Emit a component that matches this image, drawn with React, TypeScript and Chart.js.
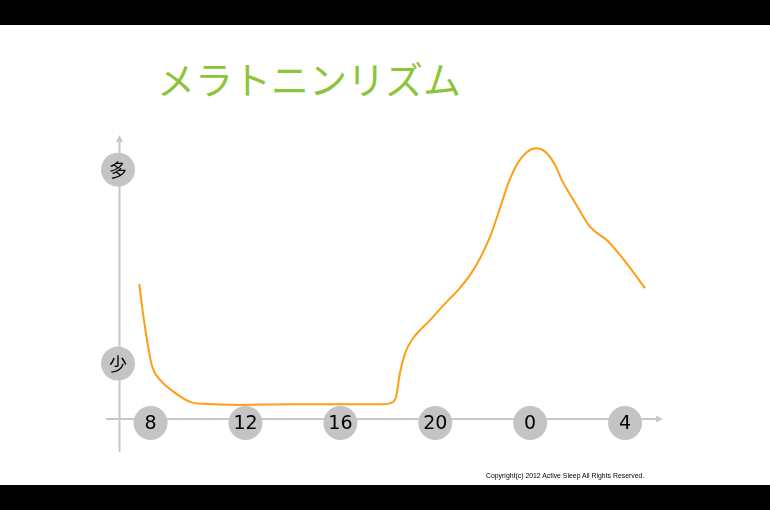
import { useEffect, useRef } from "react"
import { Chart, registerables } from "chart.js"
import type { Plugin } from "chart.js"

Chart.register(...registerables)

// hour of day on a running scale (24 = 0時, 28 = 4時)
const hours = [
  7.52, 7.76, 8.05, 8.4, 8.96, 9.66, 10.37, 11.77, 13.88, 16.69, 17.81, 18.16, 18.35, 18.51, 18.73, 19.01,
  19.78, 20.48, 20.97, 21.47, 21.89, 22.31, 22.73, 23.08, 23.43, 23.86, 24.25, 24.63, 25.05, 25.33, 25.82,
  26.52, 27.3, 28.07, 28.84,
]
// melatonin level, arbitrary units (少 = 2, 多 = 9)
const levels = [
  4.87, 3.33, 1.95, 1.41, 0.99, 0.62, 0.54, 0.51, 0.53, 0.53, 0.53, 0.59, 0.81, 1.66, 2.38, 2.85, 3.57,
  4.23, 4.66, 5.2, 5.8, 6.58, 7.61, 8.51, 9.17, 9.63, 9.77, 9.65, 9.17, 8.63, 7.91, 6.94, 6.4, 5.62, 4.72,
]

const xTickHours = [8, 12, 16, 20, 24, 28]
const xTickLabels = ["8", "12", "16", "20", "0", "4"]
const yTickValues = [2, 9]
const yTickLabels = ["少", "多"]

const xMin = 6.12
const xMax = 29.6
const yMin = -1.19
const yMax = 10.25
const yAxisHour = 6.69

const axisPlugin: Plugin<"line"> = {
  id: "arrowAxes",
  beforeDatasetsDraw(chart) {
    const { ctx, chartArea } = chart
    const xs = chart.scales.x
    const ys = chart.scales.y
    const axisY = ys.getPixelForValue(0)
    const axisX = xs.getPixelForValue(yAxisHour)

    ctx.save()
    ctx.strokeStyle = "#c8c8c8"
    ctx.fillStyle = "#c8c8c8"
    ctx.lineWidth = 2

    // horizontal axis with arrow
    ctx.beginPath()
    ctx.moveTo(chartArea.left, axisY)
    ctx.lineTo(chartArea.right - 5, axisY)
    ctx.stroke()
    ctx.beginPath()
    ctx.moveTo(chartArea.right, axisY)
    ctx.lineTo(chartArea.right - 7, axisY - 3.5)
    ctx.lineTo(chartArea.right - 7, axisY + 3.5)
    ctx.closePath()
    ctx.fill()

    // vertical axis with arrow
    ctx.beginPath()
    ctx.moveTo(axisX, chartArea.bottom)
    ctx.lineTo(axisX, chartArea.top + 5)
    ctx.stroke()
    ctx.beginPath()
    ctx.moveTo(axisX, chartArea.top)
    ctx.lineTo(axisX - 3.5, chartArea.top + 7)
    ctx.lineTo(axisX + 3.5, chartArea.top + 7)
    ctx.closePath()
    ctx.fill()

    ctx.textAlign = "center"
    ctx.textBaseline = "middle"

    xTickHours.forEach((h, i) => {
      const cx = xs.getPixelForValue(h)
      const cy = axisY + 4
      ctx.fillStyle = "#c4c4c4"
      ctx.beginPath()
      ctx.arc(cx, cy, 17, 0, Math.PI * 2)
      ctx.fill()
      ctx.fillStyle = "#000000"
      ctx.font = '19px "DejaVu Sans"'
      ctx.fillText(xTickLabels[i], cx, cy + 1)
    })

    yTickValues.forEach((v, i) => {
      const cx = axisX - 1.5
      const cy = ys.getPixelForValue(v)
      ctx.fillStyle = "#c4c4c4"
      ctx.beginPath()
      ctx.arc(cx, cy, 17, 0, Math.PI * 2)
      ctx.fill()
      ctx.fillStyle = "#000000"
      ctx.font = '18px "Noto Sans CJK JP"'
      ctx.fillText(yTickLabels[i], cx, cy + 1)
    })

    ctx.restore()
  },
}

export default function App() {
  const canvasRef = useRef<HTMLCanvasElement>(null)
  const chartInstance = useRef<Chart<"line"> | null>(null)

  useEffect(() => {
    if (!canvasRef.current) return
    if (chartInstance.current) chartInstance.current.destroy()

    chartInstance.current = new Chart(canvasRef.current, {
      type: "line",
      data: {
        datasets: [
          {
            label: "メラトニン",
            data: hours.map((h, i) => ({ x: h, y: levels[i] })),
            borderColor: "#ff9e16",
            borderWidth: 2,
            pointRadius: 0,
            cubicInterpolationMode: "monotone",
            fill: false,
          },
        ],
      },
      options: {
        animation: false,
        responsive: true,
        maintainAspectRatio: false,
        layout: { padding: { left: 106, right: 107, top: 110, bottom: 33 } },
        scales: {
          x: { type: "linear", min: xMin, max: xMax, display: false },
          y: { type: "linear", min: yMin, max: yMax, display: false },
        },
        plugins: {
          legend: { display: false },
          tooltip: { enabled: false },
        },
      },
      plugins: [axisPlugin],
    })

    return () => {
      if (chartInstance.current) {
        chartInstance.current.destroy()
        chartInstance.current = null
      }
    }
  }, [])

  return (
    <div style={{ position: "absolute", left: 0, top: 0, width: 770, height: 510, background: "#000" }}>
      <div style={{ position: "absolute", left: 0, top: 25, width: 770, height: 460, background: "#fff" }}>
        <div
          style={{
            position: "absolute",
            left: 157,
            top: 31,
            fontFamily: '"Noto Sans CJK JP", sans-serif',
            fontSize: 38,
            lineHeight: "44px",
            color: "#8cc43a",
            whiteSpace: "nowrap",
          }}
        >
          メラトニンリズム
        </div>
        <div style={{ position: "absolute", left: 0, top: 0, width: 770, height: 460 }}>
          <canvas ref={canvasRef}></canvas>
        </div>
        <div
          style={{
            position: "absolute",
            left: 486,
            top: 446,
            fontFamily: '"Liberation Sans", sans-serif',
            fontSize: 8,
            lineHeight: "10px",
            color: "#000",
            whiteSpace: "nowrap",
            transform: "scaleX(0.86)",
            transformOrigin: "left center",
          }}
        >
          Copyright(c) 2012 Active Sleep All Rights Reserved.
        </div>
      </div>
    </div>
  )
}
